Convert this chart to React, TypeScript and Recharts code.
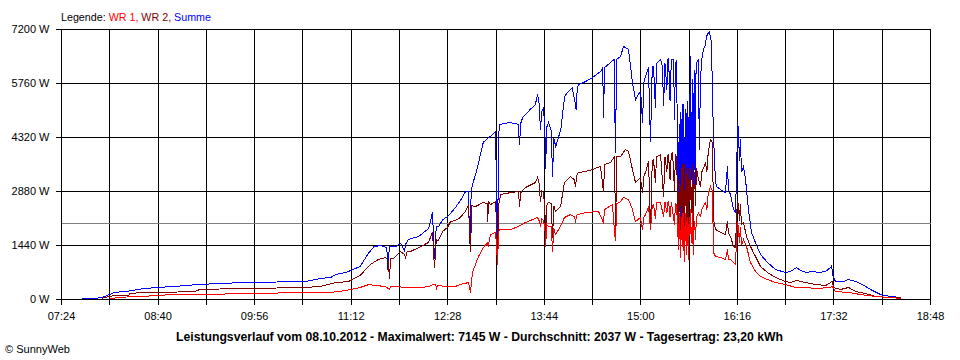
import React from 'react';
import { LineChart, Line, XAxis, YAxis, CartesianGrid, ReferenceLine } from 'recharts';

// time in minutes of the day, power in W
const X_TICKS = [444, 482, 520, 558, 596, 634, 672, 710, 748, 786, 824, 862, 900, 938, 976, 1014, 1052, 1090, 1128];
const X_TICK_LABELS = ['07:24', '', '08:40', '', '09:56', '', '11:12', '', '12:28', '', '13:44', '', '15:00', '', '16:16', '', '17:32', '', '18:48'];
const Y_TICKS = [0, 1440, 2880, 4320, 5760, 7200];
const Y_TICK_LABELS = ['0 W', '1440 W', '2880 W', '4320 W', '5760 W', '7200 W'];
const AVERAGE_W = 2037;

const LEGEND_PARTS = [
  { text: 'Legende: ', color: '#000000' },
  { text: 'WR 1, ', color: '#FF0000' },
  { text: 'WR 2, ', color: '#800000' },
  { text: 'Summe', color: '#0000FF' },
];
const TITLE = 'Leistungsverlauf vom 08.10.2012 - Maximalwert: 7145 W - Durchschnitt: 2037 W - Tagesertrag: 23,20 kWh';
const FOOTER = '\u00A9 SunnyWeb';

const SUMME: [number, number][] = [
  [460, 0], [461, 25], [470, 25], [476, 60], [478, 80], [486, 190], [498, 230], [508, 290], [520, 320],
  [542, 370], [551, 400], [585, 450], [636, 480], [648, 560], [656, 590], [660, 670], [668, 720], [670, 750],
  [679, 880], [686, 1250], [690, 1410], [695, 1440], [700, 1380], [701, 800], [702, 1400], [707, 1410],
  [711, 1490], [714, 1300], [715, 1480], [717, 1600], [725, 1680], [733, 1890], [736, 2320], [737.6, 1070],
  [739, 1950], [741, 1950], [744, 2130], [748, 2210], [750, 2290], [754, 2450], [757, 2590], [760, 2750],
  [762, 2880], [764, 2880], [765.5, 1470], [766.5, 2900], [768, 3120], [771, 3470], [776, 4190], [780, 4320],
  [782, 4350], [785.5, 4480], [786.5, 3000], [787.2, 990], [788, 4400], [789, 4670], [797, 4720],
  [803.5, 4670], [804.5, 4130], [805.5, 4700], [807, 4850], [813, 5070], [817, 5200], [818.7, 5470],
  [820, 5200], [821, 4530], [822, 5000], [823.4, 5120], [824.5, 4500], [825, 3470], [826, 4600],
  [827.3, 4720], [829.5, 4500], [830.5, 3280], [831.5, 4300], [833, 4080], [837, 4530], [840, 5410],
  [843, 5550], [846, 5650], [848, 5300], [849, 5067], [850, 5650], [851, 5730], [856.4, 5810], [862, 5920],
  [867, 6050], [868.5, 6080], [870, 6190], [870.6, 4850], [871.5, 6190], [874.5, 6270], [877, 6350],
  [879, 6400], [880, 3920], [881, 6400], [884, 6480], [886.4, 6750], [890.3, 6670], [893.4, 5790],
  [895.8, 5330], [899, 5520], [900, 5500], [901.3, 4720], [902.5, 5800], [903.7, 5950], [906, 6190],
  [907.6, 4190], [909, 6200], [910, 6213], [911.5, 5100], [912.3, 6300], [915.5, 6400], [917, 6200],
  [917.9, 5150], [919, 6300], [920.5, 5600], [921.2, 6400], [921.8, 6450], [923, 5300], [924, 6400],
  [925.8, 6400], [926.5, 4800], [927.2, 6300], [928.1, 6350],
  [929.7, 1600], [930.1, 4500], [930.5, 2500], [930.9, 5000], [931.3, 1730], [931.7, 4200], [932, 4800],
  [932.4, 2200], [932.8, 2000], [933.2, 5200], [933.6, 4270], [934, 2600], [934.4, 1330], [934.8, 4400],
  [935.2, 5070], [935.6, 2300], [936, 2130], [936.4, 5300], [936.8, 4530], [937.2, 1900], [937.5, 1470],
  [937.9, 4800], [938.3, 5470], [938.7, 3000], [939.1, 6480], [939.5, 3200], [940, 3730], [940.4, 5500],
  [940.7, 5870], [941.1, 2400], [941.5, 2670], [941.9, 5800], [942.3, 6130], [942.7, 3000], [943, 3500],
  [943.4, 6000], [943.8, 6300], [945.4, 6400], [946, 4000], [947, 5900], [948, 6400], [949.3, 6670],
  [950.9, 6800], [951.7, 7013], [953, 7100], [954, 7145], [955.6, 6853], [956.4, 5413], [957.2, 4350],
  [958.8, 3120], [960, 3000], [962.7, 2933], [966.6, 2853], [968.2, 3547], [969, 2900], [970.6, 2800],
  [972.9, 2400], [974.5, 2320], [975.5, 3500], [976.1, 4720], [977, 4500], [977.5, 3700], [978.4, 4267],
  [979.2, 3400], [980.8, 3547], [982.4, 3200], [984.7, 2400], [987.1, 1787], [990.2, 1520], [994.2, 1200],
  [999.7, 987], [1006, 800], [1013.9, 720], [1017.8, 747], [1022.5, 853], [1025.7, 773], [1030.4, 720],
  [1035.1, 747], [1039.9, 720], [1045.4, 747], [1049.3, 853], [1050.2, 900], [1050.9, 667], [1053.2, 480],
  [1059.5, 480], [1063.5, 533], [1069, 480], [1074.5, 400], [1080.8, 267], [1088.6, 133], [1096.5, 80],
  [1104.4, 53],
];

const WR2: [number, number][] = [
  [476, 20], [477, 50], [486, 110], [497, 110], [498, 160], [508, 190], [522, 190], [549, 210], [553, 270],
  [585, 290], [636, 320], [648, 350], [660, 450], [670, 480], [679, 640], [687, 930], [693.5, 1070],
  [699, 1120], [701, 1050], [702.2, 560], [703, 1100], [705.3, 1090], [710.8, 1280], [714, 1200],
  [714.8, 1120], [716, 1270], [718.7, 1280], [726.6, 1410], [732.9, 1520], [736, 1810], [737.6, 830],
  [739, 1600], [740.7, 1570], [743.9, 1810], [747.8, 1920], [750.2, 2080], [754.1, 2110], [758, 2190],
  [762, 2350], [764.4, 2530], [765.9, 1280], [767, 2500], [769.9, 2480], [776.2, 2590], [779, 2550],
  [779.5, 2080], [780.1, 2600], [781.7, 2530], [785.6, 2610], [786.5, 2000], [787.2, 990], [788, 2500],
  [789.6, 2800], [797.4, 2850], [803.7, 2880], [804.5, 2480], [805.5, 2850], [809.2, 2987], [817.1, 3120],
  [818.7, 3253], [820, 3100], [821, 2590], [822, 2900], [823.4, 2853], [824.5, 2400], [825, 1467],
  [826, 2500], [827.3, 2590], [829.5, 2550], [830.5, 1650], [831.5, 2500], [832.8, 2347], [836.8, 2480],
  [839.9, 3120], [844.6, 3280], [847.5, 3200], [848.6, 3013], [849.5, 3300], [850.9, 3387], [856.4, 3413],
  [861.9, 3467], [868.2, 3547], [870.6, 2880], [871.5, 3600], [876.1, 3650], [879.3, 3813], [880.1, 1787],
  [881, 3813], [884, 3813], [887.9, 4000], [890.3, 3947], [893.4, 3467], [895.8, 3120], [899.7, 3253],
  [901.3, 2853], [902.5, 3300], [903.7, 3387], [906.1, 3680], [907.6, 1867], [909, 3700], [910, 3733],
  [911.5, 3100], [912.3, 3800], [915.5, 3867], [917.9, 2747], [919, 3800], [920.5, 3400], [921.2, 3850],
  [921.8, 3867], [923, 3200], [924, 3900], [925, 3920], [926.5, 2900], [927.2, 3850], [928.1, 3813],
  [929.7, 1680], [930.1, 3000], [930.5, 3200], [930.9, 2200], [931.3, 1800], [931.7, 3300], [932, 3500],
  [932.4, 2500], [932.8, 2100], [933.2, 3600], [933.6, 3300], [934, 1900], [934.4, 1100], [934.8, 3000],
  [935.2, 3600], [935.6, 2400], [936, 2000], [936.4, 3500], [936.8, 3400], [937.2, 1700], [937.5, 1200],
  [937.9, 3200], [938.3, 3500], [938.7, 2600], [939.1, 3467], [939.5, 2700], [940, 2300], [940.4, 3300],
  [940.7, 3600], [941.1, 2200], [941.5, 1800], [941.9, 3200], [942.3, 3400], [943, 2500], [943.8, 3500],
  [945.4, 3200], [947, 3013], [948, 3400], [949.3, 3500], [950.9, 3653], [952, 3400], [953, 3900],
  [954.8, 4267], [956.4, 4187], [957.2, 2133], [958.8, 1867], [962.7, 1787], [966.6, 1733], [968.2, 2080],
  [969, 1760], [970.6, 1680], [972.9, 1413], [974.5, 1387], [975.5, 2300], [976.1, 2613], [977, 2500],
  [977.5, 2100], [978.4, 2533], [979.2, 2000], [980.8, 2053], [983.2, 1680], [986.3, 1413], [990.2, 1147],
  [994.2, 880], [999.7, 720], [1006, 587], [1013.9, 480], [1017.8, 453], [1022.5, 507], [1029.6, 453],
  [1037.5, 400], [1045.4, 373], [1049.3, 453], [1050.5, 500], [1051.7, 320], [1057.2, 267], [1063.5, 320],
  [1069, 213], [1076.8, 160], [1084.7, 80], [1096.5, 53], [1104.4, 50],
];

const WR1: [number, number][] = [
  [482, 20], [490, 60], [506, 80], [522, 110], [530, 133], [553, 133], [593, 160], [636, 187], [656, 190],
  [668, 240], [679, 320], [686, 400], [691, 373], [699, 347], [702, 270], [703, 347], [707, 347], [715, 320],
  [727, 320], [733, 347], [736.8, 400], [738.5, 400], [739.2, 293], [740, 380], [746, 347], [754, 347],
  [758, 400], [764.4, 453], [765.9, 187], [767.5, 720], [772.2, 1147], [776.2, 1390], [779.3, 1520],
  [779.8, 1413], [781.7, 1733], [785.6, 1787], [786.5, 1400], [787.2, 930], [788, 1800], [788.8, 1867],
  [797.4, 1867], [803.7, 1947], [809.2, 2053], [818.7, 2187], [820, 2100], [821, 1947], [822, 2150],
  [823.4, 2100], [824.5, 1900], [825, 1413], [826, 2000], [827.3, 1947], [829.5, 1950], [830.5, 1280],
  [831.5, 1900], [832.8, 1733], [836.8, 1947], [839.9, 2187], [844.6, 2267], [848, 2200], [848.6, 2053],
  [849.5, 2250], [856.4, 2320], [866.7, 2347], [870.6, 2053], [871.5, 2400], [877.7, 2533], [879.3, 1787],
  [880.1, 1550], [881, 2550], [884, 2613], [886.4, 2720], [890.3, 2667], [893.4, 2400], [895.8, 2080],
  [899.7, 2187], [901.3, 1867], [902.5, 2200], [903.7, 2267], [906.1, 2480], [907.6, 1867], [909, 2500],
  [910, 2533], [911.5, 2150], [912.3, 2580], [915.5, 2587], [917.9, 2200], [919, 2600], [920.5, 2300],
  [921.2, 2600], [921.8, 2613], [923, 2200], [924, 2600], [926.5, 2000], [927.2, 2550], [928.1, 2533],
  [929.7, 1333], [930.1, 2100], [930.5, 2300], [930.9, 1500], [931.3, 1100], [931.7, 2000], [932, 2200],
  [932.4, 1600], [932.8, 1400], [933.2, 2300], [933.6, 2100], [934, 1300], [934.4, 990], [934.8, 2000],
  [935.2, 2300], [935.6, 1500], [936, 1200], [936.4, 2200], [936.8, 2000], [937.2, 1300], [937.5, 1050],
  [937.9, 2000], [938.3, 2200], [938.7, 1700], [939.1, 2400], [939.5, 1800], [940, 1500], [940.4, 2100],
  [940.7, 2300], [941.1, 1400], [941.5, 1200], [941.9, 2000], [942.3, 2100], [943, 1600], [943.8, 2200],
  [945.4, 2300], [947, 2213], [948, 2400], [949.3, 2500], [950.9, 2587], [952, 2400], [953, 2800],
  [954.8, 3013], [956.4, 2900], [957.2, 1253], [958.8, 1147], [962.7, 1120], [966.6, 1067], [968.2, 1333],
  [969, 1067], [970.6, 1067], [972.9, 987], [974.5, 933], [975.5, 1700], [976.1, 2053], [977, 1900],
  [977.5, 1500], [978.4, 1920], [979.2, 1450], [980.8, 1600], [983.2, 1413], [986.3, 987], [990.2, 750],
  [994.2, 613], [999.7, 533], [1006, 453], [1013.9, 400], [1021.7, 320], [1029.6, 320], [1037.5, 293],
  [1049.3, 320], [1050.5, 360], [1053.2, 213], [1063.5, 187], [1072.9, 133], [1084.7, 80], [1096.5, 53],
  [1104.4, 27],
];

const toRows = (pts: [number, number][]) => pts.map(([t, w]) => ({ t, w }));

const FONT = '"Liberation Sans", Arial, sans-serif';

export default function App() {
  const xFmt = (v: number) => {
    const i = X_TICKS.indexOf(v);
    return i >= 0 ? X_TICK_LABELS[i] : '';
  };
  const yFmt = (v: number) => {
    const i = Y_TICKS.indexOf(v);
    return i >= 0 ? Y_TICK_LABELS[i] : '';
  };
  return (
    <div style={{ position: 'absolute', left: 0, top: 0, width: 960, height: 360, background: '#fff', fontFamily: FONT }}>
      <style>{`
        .recharts-cartesian-grid line, .recharts-cartesian-axis line, .recharts-reference-line line, .recharts-line path { shape-rendering: crispEdges; }
      `}</style>
      <LineChart width={960} height={360} margin={{ top: 29.5, right: 29.5, bottom: 30.5, left: 0.5 }}>
        <CartesianGrid stroke="#000" strokeWidth={1} strokeDasharray="" />
        <XAxis
          type="number"
          dataKey="t"
          domain={[444, 1128]}
          ticks={X_TICKS}
          tickFormatter={xFmt}
          allowDataOverflow
          height={30}
          tickSize={5}
          tickMargin={8}
          axisLine={{ stroke: '#000' }}
          tickLine={{ stroke: '#000' }}
          tick={{ fill: '#000', fontSize: 11, fontFamily: FONT }}
          interval={0}
        />
        <YAxis
          type="number"
          domain={[0, 7200]}
          ticks={Y_TICKS}
          tickFormatter={yFmt}
          width={61}
          tickSize={6}
          tickMargin={6}
          axisLine={{ stroke: '#000' }}
          tickLine={{ stroke: '#000' }}
          tick={{ fill: '#000', fontSize: 11, fontFamily: FONT }}
          interval={0}
        />
        <ReferenceLine y={AVERAGE_W} stroke="#808080" strokeWidth={1} />
        <Line data={toRows(SUMME)} dataKey="w" type="linear" stroke="#0000FF" strokeWidth={1} dot={false} activeDot={false} isAnimationActive={false} />
        <Line data={toRows(WR2)} dataKey="w" type="linear" stroke="#800000" strokeWidth={1} dot={false} activeDot={false} isAnimationActive={false} />
        <Line data={toRows(WR1)} dataKey="w" type="linear" stroke="#FF0000" strokeWidth={1} dot={false} activeDot={false} isAnimationActive={false} />
      </LineChart>
      <svg width={960} height={360} style={{ position: 'absolute', left: 0, top: 0, pointerEvents: 'none' }}>
        <text x={61} y={20.5} fontSize={11} fontFamily={FONT} textLength={150} lengthAdjust="spacingAndGlyphs">
          {LEGEND_PARTS.map((p, i) => (
            <tspan key={i} fill={p.color}>{p.text}</tspan>
          ))}
        </text>
        <text x={479.5} y={341} fontSize={13} fontWeight="bold" fontFamily={FONT} textAnchor="middle" textLength={607} lengthAdjust="spacingAndGlyphs" fill="#000">
          {TITLE}
        </text>
        <text x={5} y={353} fontSize={11} fontFamily={FONT} textLength={65} lengthAdjust="spacingAndGlyphs" fill="#000">
          {FOOTER}
        </text>
      </svg>
    </div>
  );
}
